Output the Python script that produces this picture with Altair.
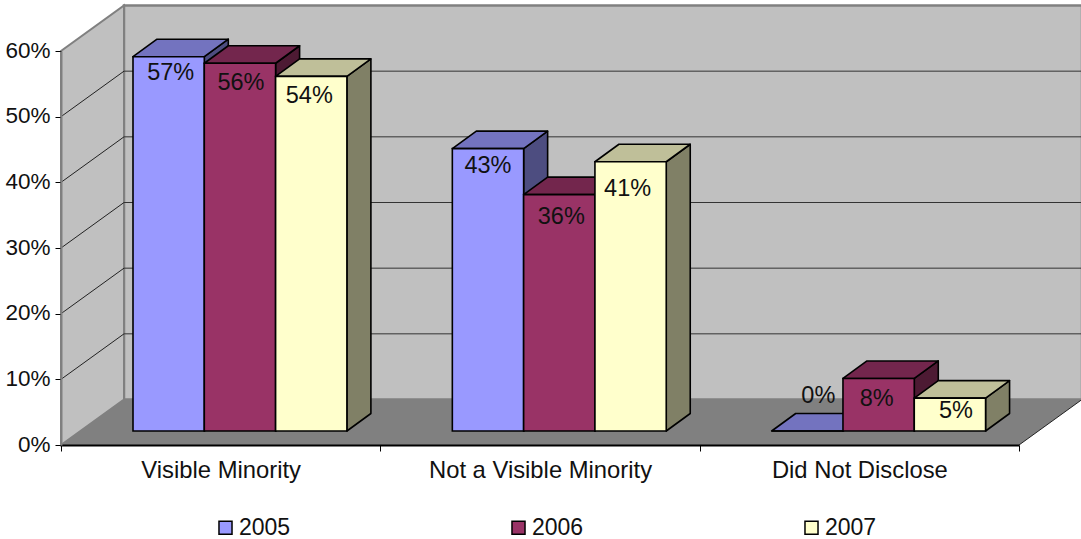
import altair as alt
import pandas as pd

categories = ["Visible Minority", "Not a Visible Minority", "Did Not Disclose"]
years = ["2005", "2006", "2007"]
values_2005 = [57, 43, 0]
values_2006 = [56, 36, 8]
values_2007 = [54, 41, 5]
series_values = {"2005": values_2005, "2006": values_2006, "2007": values_2007}
front_colors = ["#9999FF", "#993366", "#FFFFCC"]
top_colors = ["#7373BF", "#73264D", "#BFBF99"]
side_colors = ["#4D4D80", "#4D1A33", "#808066"]
y_ticks = [0, 10, 20, 30, 40, 50, 60]
FONT = "Liberation Sans"

# Plot scale: one x unit is a category, one y unit is a percentage point.
PX_X = 319.33
PX_Y = 6.567

# Oblique projection of the box: wall depth and bar depth, in data units.
WALL_DX = 63 / PX_X
WALL_DY = 45.5 / PX_Y
BAR_DX = 24 / PX_X
BAR_DY = 17.5 / PX_Y
BAR_LIFT = 14 / PX_Y
BAR_W = 71.3 / PX_X
BAR_GAP = 72 / PX_X

# Hand placement of the value labels, in pixels relative to the bar's top centre.
label_nudge = {
    "2005": [(2, 16), (0, 17), (11, -35)],
    "2006": [(1, 20), (2, 22), (-2, 21)],
    "2007": [(-2, 20), (-3, 27), (6, 13)],
}

x_scale = alt.Scale(domain=[0, 3], nice=False, zero=False)
y_scale = alt.Scale(domain=[0, 60], nice=False, zero=False)

# Every layer carries the same axis definitions so they merge into one pair.
x_axis = alt.Axis(
    values=[0, 0.5, 1, 1.5, 2, 2.5, 3],
    labelExpr=(
        f"datum.value == 0.5 ? '{categories[0]}' : datum.value == 1.5 ? '{categories[1]}'"
        f" : datum.value == 2.5 ? '{categories[2]}' : ''"
    ),
    domainColor="black", domainWidth=2, tickColor="black", tickWidth=1, tickSize=6,
    tickOpacity=alt.expr("datum.value % 1 == 0 ? 1 : 0"),
    grid=False, labelFont=FONT, labelFontSize=23.8, labelColor="#111111", labelLimit=500,
    labelPadding=7, labelAngle=0, labelOverlap=False, labelFlush=False, zindex=1,
)
y_axis = alt.Axis(
    values=y_ticks, labelExpr="datum.value + '%'",
    domainColor="#808080", domainWidth=2, tickColor="black", tickWidth=1, tickSize=6,
    grid=False, labelFont=FONT, labelFontSize=22.5, labelColor="#111111",
    labelPadding=5, labelOffset=-1, zindex=1,
)


def qx(field="x"):
    return alt.X(f"{field}:Q", scale=x_scale, axis=x_axis, title=None)


def qy(field="y"):
    return alt.Y(f"{field}:Q", scale=y_scale, axis=y_axis, title=None)


def bar_rows(year_index):
    year = years[year_index]
    rows = []
    for cat_index, value in enumerate(series_values[year]):
        x0 = cat_index + BAR_GAP + year_index * BAR_W
        rows.append({
            "category": categories[cat_index], "year": year, "value": value,
            "x0": x0, "x1": x0 + BAR_W,
            "base": BAR_LIFT, "top": value + BAR_LIFT,
            "label": f"{value}%",
            "lx": x0 + BAR_W / 2 + label_nudge[year][cat_index][0] / PX_X,
            "ly": value + BAR_LIFT - label_nudge[year][cat_index][1] / PX_Y,
        })
    return rows


def side_face(rows, color):
    pts = []
    for r in rows:
        pts.append({"c": r["category"], "x": r["x1"], "y": r["top"], "y2": r["base"]})
        pts.append({"c": r["category"], "x": r["x1"] + BAR_DX, "y": r["top"] + BAR_DY, "y2": r["base"] + BAR_DY})
    return alt.Chart(pd.DataFrame(pts)).mark_area(
        color=color, stroke="black", strokeWidth=1.6, strokeJoin="round"
    ).encode(x=qx(), y=qy(), y2="y2:Q", detail="c:N")


def top_face(rows, color):
    pts = []
    for r in rows:
        pts.append({"c": r["category"], "y": r["top"], "x": r["x0"], "x2": r["x1"]})
        pts.append({"c": r["category"], "y": r["top"] + BAR_DY, "x": r["x0"] + BAR_DX, "x2": r["x1"] + BAR_DX})
    return alt.Chart(pd.DataFrame(pts)).mark_area(
        color=color, stroke="black", strokeWidth=1.6, strokeJoin="round", orient="horizontal"
    ).encode(y=qy(), x=qx(), x2="x2:Q", detail="c:N")


def front_face(rows):
    return alt.Chart(pd.DataFrame(rows)).mark_rect(stroke="black", strokeWidth=1.6).encode(
        x=qx("x0"), x2="x1:Q", y=qy("base"), y2="top:Q",
        color=alt.Color(
            "year:N",
            scale=alt.Scale(domain=years, range=front_colors),
            legend=alt.Legend(
                title=None, orient="none", direction="horizontal", columns=3,
                legendX=153, legendY=465, columnPadding=216, symbolType="square",
                symbolSize=170, symbolStrokeColor="black", symbolStrokeWidth=1.5,
                symbolOpacity=1, labelFont=FONT, labelFontSize=23, labelColor="#111111",
                labelOffset=2, padding=0,
            ),
        ),
    )


# Walls and floor of the box
wall_right = 3 + WALL_DX
back_wall = alt.Chart(pd.DataFrame([{
    "x": WALL_DX, "x2": wall_right, "y": WALL_DY, "y2": 60 + WALL_DY,
}])).mark_rect(color="#C0C0C0", stroke="#808080", strokeWidth=2.5).encode(
    x=qx(), x2="x2:Q", y=qy(), y2="y2:Q",
)

left_wall = alt.Chart(pd.DataFrame([
    {"x": 0, "y": 0, "y2": 60},
    {"x": WALL_DX, "y": WALL_DY, "y2": 60 + WALL_DY},
])).mark_area(color="#C0C0C0", stroke="#808080", strokeWidth=2).encode(
    x=qx(), y=qy(), y2="y2:Q"
)

floor = alt.Chart(pd.DataFrame([
    {"y": 0, "x": 0, "x2": 3},
    {"y": WALL_DY, "x": WALL_DX, "x2": wall_right},
])).mark_area(color="#808080", orient="horizontal").encode(
    y=qy(), x=qx(), x2="x2:Q"
)

# Gridlines run along the back wall and fold down the left wall
back_grid = alt.Chart(pd.DataFrame([
    {"x": WALL_DX, "x2": wall_right, "y": t + WALL_DY} for t in y_ticks[1:-1]
])).mark_rule(color="#333333", strokeWidth=1).encode(x=qx(), x2="x2:Q", y=qy())

left_points = []
for t in y_ticks[1:-1]:
    left_points.append({"t": t, "x": 0, "y": t})
    left_points.append({"t": t, "x": WALL_DX, "y": t + WALL_DY})
left_grid = alt.Chart(pd.DataFrame(left_points)).mark_line(color="#222222", strokeWidth=1).encode(
    x=qx(), y=qy(), detail="t:N"
)

floor_edge = alt.Chart(pd.DataFrame([
    {"x": 3, "y": 0},
    {"x": wall_right, "y": WALL_DY},
])).mark_line(color="#222222", strokeWidth=1).encode(x=qx(), y=qy())

layers = [back_wall, left_wall, floor, back_grid, left_grid, floor_edge]
all_rows = []
# Series are painted left to right so each bar overlaps its neighbour's side face.
for i in range(len(years)):
    rows = bar_rows(i)
    all_rows.extend(rows)
    layers += [side_face(rows, side_colors[i]), top_face(rows, top_colors[i]), front_face(rows)]

value_labels = alt.Chart(pd.DataFrame(all_rows)).mark_text(
    font=FONT, fontSize=23.5, color="#111111", baseline="middle", align="center"
).encode(x=qx("lx"), y=qy("ly"), text="label:N")
layers.append(value_labels)

chart = alt.layer(*layers).properties(
    width=958,
    height=394,
    padding={"left": 61, "top": 51, "right": 62, "bottom": 94},
    autosize=alt.AutoSizeParams(type="none"),
    background="white",
).configure_view(stroke=None)

chart.save("out.html", embed_options={"renderer": "svg", "actions": False})
